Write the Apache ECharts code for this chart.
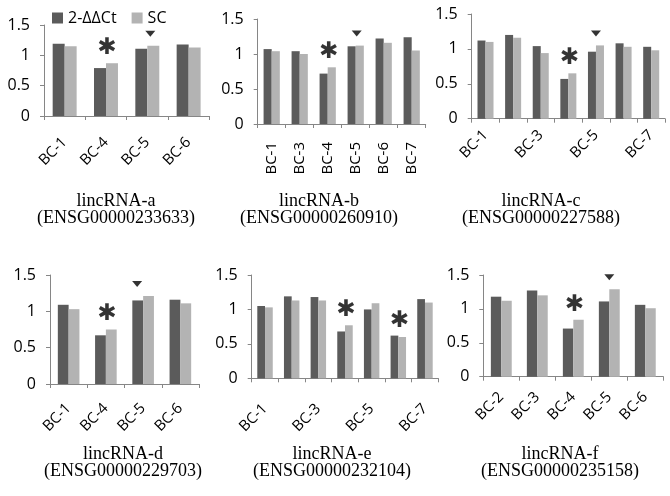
<!DOCTYPE html>
<html><head><meta charset="utf-8">
<script src="https://cdn.jsdelivr.net/npm/echarts@6/dist/echarts.min.js"></script>
<style>html,body{margin:0;padding:0;background:#fff}#c{width:670px;height:496px}</style>
</head><body><div id="c"></div>
<script>
// ---- data ----
const seriesNames = ['2-ΔΔCt', 'SC'];
const yTickValues = [0, 0.5, 1, 1.5];

const catsA = ['BC-1', 'BC-4', 'BC-5', 'BC-6'];
const darkA = [1.19, 0.79, 1.11, 1.18];
const lightA = [1.15, 0.87, 1.16, 1.13];
const starsA = ['BC-4'];
const triA = ['BC-5'];

const catsB = ['BC-1', 'BC-3', 'BC-4', 'BC-5', 'BC-6', 'BC-7'];
const darkB = [1.07, 1.04, 0.72, 1.11, 1.22, 1.24];
const lightB = [1.04, 1.00, 0.81, 1.12, 1.16, 1.05];
const starsB = ['BC-4'];
const triB = ['BC-5'];

const catsC = ['BC-1', 'BC-2', 'BC-3', 'BC-4', 'BC-5', 'BC-6', 'BC-7'];
const darkC = [1.12, 1.20, 1.04, 0.57, 0.96, 1.08, 1.03];
const lightC = [1.10, 1.16, 0.94, 0.65, 1.05, 1.03, 0.98];
const starsC = ['BC-4'];
const triC = ['BC-5'];

const catsD = ['BC-1', 'BC-4', 'BC-5', 'BC-6'];
const darkD = [1.09, 0.67, 1.15, 1.16];
const lightD = [1.03, 0.75, 1.21, 1.11];
const starsD = ['BC-4'];
const triD = ['BC-5'];

const catsE = ['BC-1', 'BC-2', 'BC-3', 'BC-4', 'BC-5', 'BC-6', 'BC-7'];
const darkE = [1.05, 1.19, 1.18, 0.68, 1.00, 0.62, 1.15];
const lightE = [1.03, 1.13, 1.13, 0.77, 1.09, 0.60, 1.10];
const starsE = ['BC-4', 'BC-6'];
const triE = [];

const catsF = ['BC-2', 'BC-3', 'BC-4', 'BC-5', 'BC-6'];
const darkF = [1.18, 1.27, 0.71, 1.11, 1.06];
const lightF = [1.12, 1.20, 0.84, 1.29, 1.01];
const starsF = ['BC-4'];
const triF = ['BC-5'];

const titleLines = [
  ['lincRNA-a', '(ENSG00000233633)'],
  ['lincRNA-b', '(ENSG00000260910)'],
  ['lincRNA-c', '(ENSG00000227588)'],
  ['lincRNA-d', '(ENSG00000229703)'],
  ['lincRNA-e', '(ENSG00000232104)'],
  ['lincRNA-f', '(ENSG00000235158)']
];

// ---- layout / style ----
const panels = [
  {cats: catsA, dark: darkA, light: lightA, stars: starsA, tri: triA,
   grid: {left: 44, top: 25, width: 165.3, height: 91}, rotate: 45, labelInterval: 0, labelMargin: 24, triDx: 3, title: [116, 210]},
  {cats: catsB, dark: darkB, light: lightB, stars: starsB, tri: triB,
   grid: {left: 257.7, top: 19, width: 168, height: 105}, rotate: 90, labelInterval: 0, labelMargin: 18, triDx: 1, title: [319, 210]},
  {cats: catsC, dark: darkC, light: lightC, stars: starsC, tri: triC,
   grid: {left: 471.7, top: 14, width: 193.3, height: 104.7}, rotate: 45, labelInterval: 1, labelMargin: 14, triDx: 0, title: [541, 210]},
  {cats: catsD, dark: darkD, light: lightD, stars: starsD, tri: triD,
   grid: {left: 50, top: 275, width: 149, height: 109}, rotate: 45, labelInterval: 0, labelMargin: 22, triDx: -6, title: [123, 463]},
  {cats: catsE, dark: darkE, light: lightE, stars: starsE, tri: triE,
   grid: {left: 251.7, top: 275, width: 186.6, height: 103.3}, rotate: 45, labelInterval: 1, labelMargin: 28, triDx: 0, title: [332, 463]},
  {cats: catsF, dark: darkF, light: lightF, stars: starsF, tri: triF,
   grid: {left: 483.3, top: 275, width: 180, height: 101.7}, rotate: 45, labelInterval: 0, labelMargin: 18, triDx: 0, title: [560, 463]}
];

const DARK = '#5b5b5b', LIGHT = '#b3b3b3', AXIS = '#868686';
const SANS = '"Open Sans", "DejaVu Sans", sans-serif';

const grids = [], xAxes = [], yAxes = [], series = [], graphics = [];
panels.forEach((p, i) => {
  grids.push(Object.assign({containLabel: false}, p.grid));
  xAxes.push({
    type: 'category', gridIndex: i, data: p.cats,
    axisLine: {lineStyle: {color: AXIS, width: 1}},
    axisTick: {show: true, interval: 0, length: 4, lineStyle: {color: AXIS}},
    axisLabel: {interval: p.labelInterval, rotate: p.rotate, margin: p.labelMargin, color: '#000',
                fontFamily: SANS, fontSize: 15}
  });
  yAxes.push({
    type: 'value', gridIndex: i, min: yTickValues[0], max: yTickValues[yTickValues.length - 1], interval: 0.5,
    splitLine: {show: false},
    axisLine: {show: true, lineStyle: {color: AXIS, width: 1}},
    axisTick: {show: true, length: 4, lineStyle: {color: AXIS}},
    axisLabel: {margin: 14, color: '#000', fontFamily: SANS, fontSize: 16}
  });
  const barCommon = {type: 'bar', xAxisIndex: i, yAxisIndex: i, barGap: '0%', barCategoryGap: '42%', silent: true};
  series.push(Object.assign({name: seriesNames[0], data: p.dark, itemStyle: {color: DARK}}, barCommon));
  series.push(Object.assign({name: seriesNames[1], data: p.light, itemStyle: {color: LIGHT}}, barCommon));
  const top = c => Math.max(p.dark[p.cats.indexOf(c)], p.light[p.cats.indexOf(c)]);
  series.push({
    type: 'scatter', name: 'sig', xAxisIndex: i, yAxisIndex: i, silent: true, z: 10,
    data: p.stars.map(c => [c, top(c)]),
    symbol: 'circle', symbolSize: 1, itemStyle: {color: 'rgba(0,0,0,0)'},
    label: {show: true, formatter: '✱', position: 'inside', offset: [1, -15],
            fontFamily: '"DejaVu Sans", sans-serif', fontSize: 23, color: '#000'}
  });
  series.push({
    type: 'scatter', name: 'mark', xAxisIndex: i, yAxisIndex: i, silent: true, z: 10,
    data: p.tri.map(c => [c, top(c)]),
    symbol: 'triangle', symbolRotate: 180, symbolSize: [10, 6], symbolOffset: [p.triDx, -12],
    itemStyle: {color: '#000'}
  });
  graphics.push({
    type: 'text', x: p.title[0], y: p.title[1],
    style: {text: titleLines[i].join('\n'), fill: '#000', align: 'center', verticalAlign: 'middle',
            font: '18px "Liberation Serif", "Times New Roman", serif', lineHeight: 17}
  });
});

const chart = echarts.init(document.getElementById('c'), null, {renderer: 'canvas'});
chart.setOption({
  animation: false,
  backgroundColor: '#fff',
  legend: {
    data: seriesNames, left: 47, top: 5, itemWidth: 11, itemHeight: 11, itemGap: 15,
    icon: 'rect', textStyle: {fontFamily: SANS, fontSize: 16, color: '#000'}, selectedMode: false
  },
  grid: grids, xAxis: xAxes, yAxis: yAxes, series: series, graphic: graphics
});
</script></body></html>
